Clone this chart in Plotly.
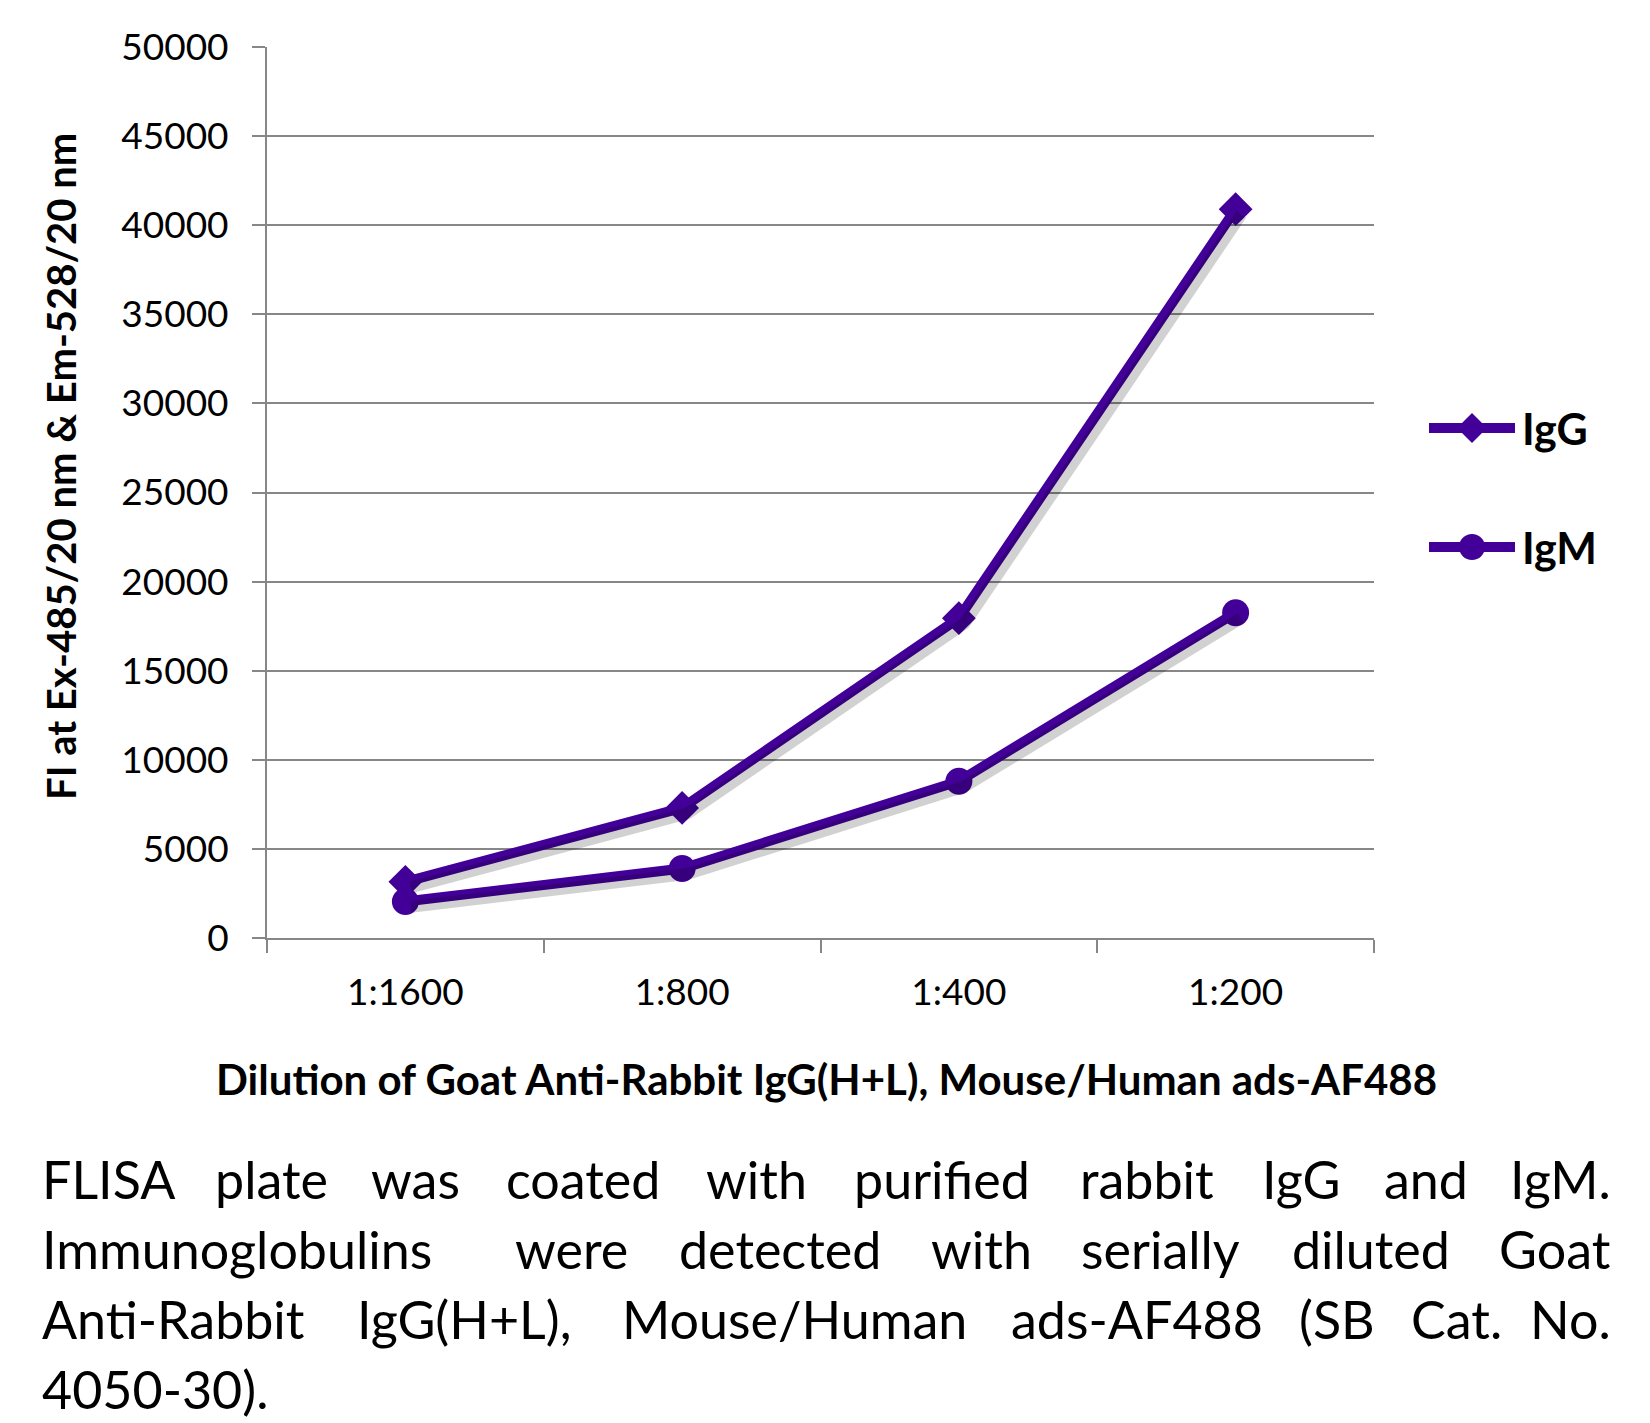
import plotly.graph_objects as go

# ---------------- data ----------------
dilutions = ["1:1600", "1:800", "1:400", "1:200"]
igg_values = [3150, 7300, 17950, 40900]
igm_values = [2050, 3900, 8800, 18250]
series_names = ["IgG", "IgM"]
y_ticks = [0, 5000, 10000, 15000, 20000, 25000, 30000, 35000, 40000, 45000, 50000]

y_title = "FI at Ex-485/20 nm & Em-528/20 nm"
x_title = "Dilution of Goat Anti-Rabbit IgG(H+L), Mouse/Human ads-AF488"
caption_lines = [
    "FLISA plate was coated with purified rabbit IgG and IgM.",
    "Immunoglobulins were detected with serially diluted Goat",
    "Anti-Rabbit IgG(H+L), Mouse/Human ads-AF488 (SB Cat. No.",
    "4050-30).",
]

# ---------------- style / layout ----------------
OFF = 8  # page body margin
W, H = 1650 - OFF, 1423 - OFF
PL, PR, PT, PB = 267 - OFF, 1374 - OFF, 47 - OFF, 938 - OFF  # plot area in pixels
PURPLE = "#430099"
GRID = "#878787"
FONT = "Lato"

def px(x):
    return (x - OFF - PL) / (PR - PL)

def py(y):
    return (PB - (y - OFF)) / (PB - PT)

fig = go.Figure()

# drop shadow traces (same data on slightly shifted overlay axes)
sh_dx = 0.02
sh_dy = 300
for vals in (igg_values, igm_values):
    fig.add_trace(go.Scatter(
        x=dilutions, y=vals, xaxis="x2", yaxis="y2",
        mode="lines", line=dict(color="rgba(0,0,0,0.18)", width=12),
        showlegend=False, hoverinfo="skip"))

fig.add_trace(go.Scatter(
    x=dilutions, y=igg_values, name=series_names[0], mode="lines+markers",
    line=dict(color=PURPLE, width=10),
    marker=dict(symbol="diamond", size=26, color=PURPLE),
    showlegend=False))
fig.add_trace(go.Scatter(
    x=dilutions, y=igm_values, name=series_names[1], mode="lines+markers",
    line=dict(color=PURPLE, width=10),
    marker=dict(symbol="circle", size=27, color=PURPLE),
    showlegend=False))

annotations = []
shapes = []

# y-axis title
annotations.append(dict(
    text="<b>" + y_title + "</b>", x=px(61), y=py(467), xref="paper", yref="paper",
    textangle=-90, showarrow=False, xanchor="center", yanchor="middle",
    font=dict(family=FONT, size=40, color="black")))
# x-axis title
annotations.append(dict(
    text="<b>" + x_title + "</b>", x=px(826), y=py(1079), xref="paper", yref="paper",
    showarrow=False, xanchor="center", yanchor="middle",
    font=dict(family=FONT, size=42, color="black")))

# custom legend
leg_y = [428, 547]
leg_x0, leg_x1, leg_text_x = 1429, 1515, 1520
for i, name in enumerate(series_names):
    yy = leg_y[i]
    shapes.append(dict(type="line", xref="paper", yref="paper",
                       x0=px(leg_x0), x1=px(leg_x1), y0=py(yy), y1=py(yy),
                       line=dict(color=PURPLE, width=10)))
    cx = (leg_x0 + leg_x1) / 2
    if i == 0:
        r = 15
        path = "M {} {} L {} {} L {} {} L {} {} Z".format(
            px(cx - r), py(yy), px(cx), py(yy - r), px(cx + r), py(yy), px(cx), py(yy + r))
        shapes.append(dict(type="path", xref="paper", yref="paper", path=path,
                           fillcolor=PURPLE, line=dict(color=PURPLE, width=0)))
    else:
        r = 13
        shapes.append(dict(type="circle", xref="paper", yref="paper",
                           x0=px(cx - r), x1=px(cx + r), y0=py(yy - r), y1=py(yy + r),
                           fillcolor=PURPLE, line=dict(color=PURPLE, width=0)))
    annotations.append(dict(
        text="<b>" + name + "</b>", x=px(leg_text_x), y=py(yy), xref="paper", yref="paper",
        showarrow=False, xanchor="left", yanchor="middle",
        font=dict(family=FONT, size=43, color="black")))

cap_left, cap_right = 40, 1613
cap_line_y = [1179, 1249, 1319, 1389]
cap_mid_centres = [
    [271.5, 415.7, 582.5, 756.6, 942.3, 1146.5, 1300.6, 1426.4],
    [571.9, 780.3, 981.3, 1160.1, 1370.5],
    [464.6, 794.5, 1136.5, 1337.0, 1456.9],
    [],
]
for li, line in enumerate(caption_lines):
    words = line.split(" ")
    yy = py(cap_line_y[li])
    cf = dict(family=FONT, size=52, color="black")
    if len(words) == 1:
        annotations.append(dict(text=words[0], x=px(cap_left), y=yy, xref="paper", yref="paper",
                                showarrow=False, xanchor="left", yanchor="middle", font=cf))
        continue
    for wi, wd in enumerate(words):
        if wi == 0:
            xx, anc = cap_left, "left"
        elif wi == len(words) - 1:
            xx, anc = cap_right, "right"
        else:
            xx, anc = cap_mid_centres[li][wi - 1], "center"
        annotations.append(dict(text=wd, x=px(xx), y=yy, xref="paper", yref="paper",
                                showarrow=False, xanchor=anc, yanchor="middle", font=cf))

fig.update_layout(
    width=W, height=H,
    margin=dict(l=PL, r=W - PR, t=PT, b=H - PB, pad=0),
    paper_bgcolor="white", plot_bgcolor="white",
    font=dict(family=FONT, color="black"),
    showlegend=False,
    xaxis=dict(
        type="category", categoryorder="array", categoryarray=dilutions,
        range=[-0.5, 3.5], tickson="boundaries", ticks="outside", ticklen=13,
        tickwidth=2, tickcolor=GRID, showline=True, linecolor=GRID, linewidth=2,
        showgrid=False, tickfont=dict(family=FONT, size=37, color="black"),
        ticklabelstandoff=21, fixedrange=True),
    yaxis=dict(
        range=[0, 50000], tickvals=y_ticks, ticktext=[str(v) for v in y_ticks],
        ticks="outside", ticklen=13, tickwidth=2, tickcolor=GRID,
        showline=True, linecolor=GRID, linewidth=2,
        showgrid=True, gridcolor=GRID, gridwidth=2, zeroline=False,
        tickfont=dict(family=FONT, size=37, color="black"),
        ticklabelstandoff=16, fixedrange=True),
    xaxis2=dict(type="category", categoryorder="array", categoryarray=dilutions,
                range=[-0.5 - sh_dx, 3.5 - sh_dx], overlaying="x", visible=False),
    yaxis2=dict(range=[sh_dy, 50000 + sh_dy], overlaying="y", visible=False),
    annotations=annotations,
    shapes=shapes,
)

fig.write_html("out.html")
